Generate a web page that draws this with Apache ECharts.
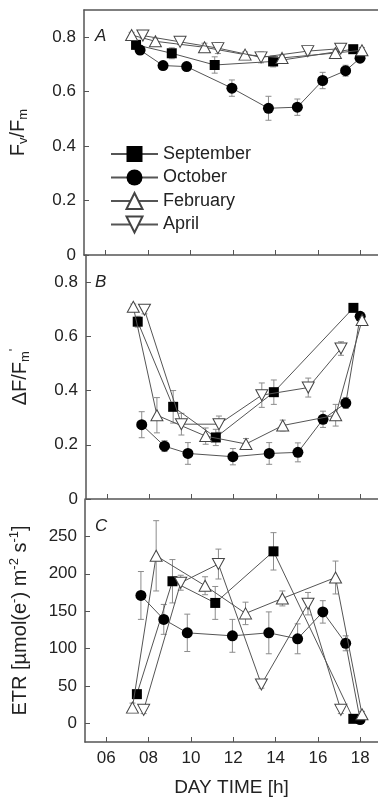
<!DOCTYPE html>
<html>
<head>
<meta charset="utf-8">
<script src="https://cdn.jsdelivr.net/npm/echarts@6/dist/echarts.min.js"></script>
<style>
  html, body { margin: 0; padding: 0; background: #fff; }
  #chart { width: 378px; height: 798px; }
</style>
</head>
<body>
<div id="chart"></div>
<script>
// sampling times (h) for each month
const sepTime = [7.45, 9.13, 11.15, 13.9, 17.67];
const octTime = [7.64, 8.72, 9.83, 11.96, 13.68, 15.04, 16.23, 17.31, 17.99];
const febTime = [7.24, 8.36, 10.67, 12.58, 14.32, 16.83, 18.08];
const aprTime = [7.77, 9.52, 11.3, 13.33, 15.53, 17.08];

// panel A: Fv/Fm
const sepA = [0.772, 0.741, 0.698, 0.711, 0.756];
const octA = [0.753, 0.696, 0.692, 0.613, 0.539, 0.543, 0.641, 0.677, 0.723];
const febA = [0.808, 0.785, 0.763, 0.736, 0.724, 0.742, 0.752];
const aprA = [0.806, 0.783, 0.76, 0.726, 0.749, 0.758];
const sepAErr = [0.015, 0.02, 0.03, 0.02, 0.01];
const octAErr = [0.015, 0.01, 0.01, 0.03, 0.044, 0.03, 0.03, 0.02, 0.01];
const febAErr = [0.01, 0.01, 0.015, 0.01, 0.01, 0.01, 0.01];
const aprAErr = [0.01, 0.01, 0.02, 0.02, 0.01, 0.01];

// panel B: dF/Fm'
const sepB = [0.654, 0.34, 0.227, 0.394, 0.705];
const octB = [0.274, 0.195, 0.168, 0.156, 0.168, 0.172, 0.294, 0.354, 0.674];
const febB = [0.709, 0.309, 0.232, 0.203, 0.271, 0.309, 0.66];
const aprB = [0.698, 0.276, 0.276, 0.383, 0.411, 0.555];
const sepBErr = [0.02, 0.06, 0.03, 0.045, 0.01];
const octBErr = [0.048, 0.02, 0.04, 0.03, 0.04, 0.035, 0.03, 0.02, 0.01];
const febBErr = [0.01, 0.065, 0.03, 0.02, 0.02, 0.04, 0.02];
const aprBErr = [0.015, 0.04, 0.03, 0.045, 0.035, 0.025];

// panel C: ETR
const sepC = [39, 190, 161, 230, 6];
const octC = [171, 139, 121, 117, 121, 113, 149, 107, 5];
const febC = [21, 224, 184, 147, 167, 195, 12];
const aprC = [18, 188, 213, 52, 160, 18];
const sepCErr = [5, 29, 22, 25, 3];
const octCErr = [32, 20, 25, 22, 28, 20, 15, 10, 3];
const febCErr = [6, 47, 12, 15, 10, 22, 4];
const aprCErr = [5, 10, 20, 5, 15, 5];

const xTicks = [6, 8, 10, 12, 14, 16, 18];
const fracTicks = [0, 0.2, 0.4, 0.6, 0.8];
const etrTicks = [0, 50, 100, 150, 200, 250];
const months = ['September', 'October', 'February', 'April'];

const FONT = '"Liberation Sans", Arial, sans-serif';
const AXIS = '#555';
const X_MIN = 5, X_MAX = 18.835; // plot runs off the right edge of the figure

const chart = echarts.init(document.getElementById('chart'));

const pair = (xs, ys) => xs.map((x, i) => [x, ys[i]]);
const errData = (xs, ys, es) => xs.map((x, i) => [x, ys[i] - es[i], ys[i] + es[i]]);

const markStyle = {
  September: { symbol: 'rect', symbolSize: 10, symbolRotate: 0, itemStyle: { color: '#000' } },
  October: { symbol: 'circle', symbolSize: 11, symbolRotate: 0, itemStyle: { color: '#000' } },
  February: { symbol: 'triangle', symbolSize: [12, 11], symbolRotate: 0, itemStyle: { color: '#fff', borderColor: '#444', borderWidth: 1 } },
  April: { symbol: 'triangle', symbolSize: [12, 11], symbolRotate: 180, itemStyle: { color: '#fff', borderColor: '#444', borderWidth: 1 } }
};

function renderErr(params, api) {
  const x = api.value(0);
  const lo = api.coord([x, api.value(1)]);
  const hi = api.coord([x, api.value(2)]);
  const w = 3;
  const style = { stroke: '#8c8c8c', lineWidth: 1 };
  return {
    type: 'group',
    children: [
      { type: 'line', shape: { x1: hi[0], y1: hi[1], x2: lo[0], y2: lo[1] }, style },
      { type: 'line', shape: { x1: hi[0] - w, y1: hi[1], x2: hi[0] + w, y2: hi[1] }, style },
      { type: 'line', shape: { x1: lo[0] - w, y1: lo[1], x2: lo[0] + w, y2: lo[1] }, style }
    ]
  };
}

const panels = [
  { vals: [sepA, octA, febA, aprA], errs: [sepAErr, octAErr, febAErr, aprAErr] },
  { vals: [sepB, octB, febB, aprB], errs: [sepBErr, octBErr, febBErr, aprBErr] },
  { vals: [sepC, octC, febC, aprC], errs: [sepCErr, octCErr, febCErr, aprCErr] }
];
const times = [sepTime, octTime, febTime, aprTime];

const series = [];
panels.forEach((p, gi) => {
  months.forEach((m, k) => {
    series.push({
      type: 'custom',
      xAxisIndex: gi, yAxisIndex: gi,
      renderItem: renderErr,
      data: errData(times[k], p.vals[k], p.errs[k]),
      encode: { x: 0, y: [1, 2] },
      z: 1, silent: true
    });
  });
  months.forEach((m, k) => {
    series.push(Object.assign({
      name: m,
      type: 'line',
      xAxisIndex: gi, yAxisIndex: gi,
      data: pair(times[k], p.vals[k]),
      lineStyle: { color: '#555', width: 1 },
      z: 2 + k,
      emphasis: { disabled: true }
    }, markStyle[m]));
  });
});

const grids = [
  { left: 84, right: 0, top: 10, height: 245 },
  { left: 84, right: 0, top: 255, height: 244 },
  { left: 84, right: 0, top: 499, height: 245 }
];

const xAxes = [0, 1, 2].map(i => ({
  type: 'value', gridIndex: i, min: X_MIN, max: X_MAX,
  axisLine: { onZero: false, lineStyle: { color: AXIS, width: 1.5 } },
  axisTick: { inside: true, length: 5, customValues: xTicks, lineStyle: { color: AXIS } },
  splitLine: { show: false },
  axisLabel: {
    show: i === 2, customValues: xTicks, margin: 8,
    fontSize: 17, color: '#222', fontFamily: FONT,
    formatter: v => (v < 10 ? '0' : '') + v
  },
  name: i === 2 ? 'DAY TIME [h]' : '',
  nameLocation: 'middle', nameGap: 36,
  nameTextStyle: { fontSize: 19, color: '#222', fontFamily: FONT }
}));
// frame line along the top of panel A
xAxes.push({
  type: 'value', gridIndex: 0, position: 'top', min: X_MIN, max: X_MAX,
  axisLine: { onZero: false, lineStyle: { color: AXIS, width: 1.5 } },
  axisTick: { show: false }, axisLabel: { show: false }, splitLine: { show: false }
});

const nameRich = {
  a: { fontSize: 20, lineHeight: 24, color: '#222', fontFamily: FONT },
  s: { fontSize: 13, lineHeight: 13, verticalAlign: 'bottom', color: '#222', fontFamily: FONT },
  p: { fontSize: 13, lineHeight: 13, verticalAlign: 'top', color: '#222', fontFamily: FONT }
};

const yAxisBase = (i, min, max, ticks, fmt, name, gap) => ({
  type: 'value', gridIndex: i, min, max,
  axisLine: { show: true, onZero: false, lineStyle: { color: AXIS, width: 1.5 } },
  axisTick: { show: true, inside: true, length: 5, customValues: ticks, lineStyle: { color: AXIS } },
  splitLine: { show: false },
  axisLabel: { customValues: ticks, formatter: fmt, margin: 8, fontSize: 17, color: '#222', fontFamily: FONT },
  name, nameLocation: 'middle', nameRotate: 90, nameGap: gap,
  nameTextStyle: { rich: nameRich }
});

const fracFmt = v => (v === 0 ? '0' : v.toFixed(1));

const yAxes = [
  yAxisBase(0, 0, 0.9, fracTicks, fracFmt, '{a|F}{s|v}{a|/F}{s|m}', 54),
  yAxisBase(1, 0, 0.9, fracTicks, fracFmt, "{a|ΔF/F}{s|m}{p|'}", 54),
  yAxisBase(2, -25, 300, etrTicks, v => String(v), '{a|ETR [µmol(e}{p|-}{a|) m}{p|-2}{a| s}{p|-1}{a|]}', 53)
];

const letter = (t, y) => ({
  type: 'text', left: 95, top: y,
  style: { text: t, fill: '#222', font: 'italic 17px "Liberation Sans", Arial, sans-serif' }
});

chart.setOption({
  animation: false,
  backgroundColor: '#fff',
  textStyle: { fontFamily: FONT },
  grid: grids,
  xAxis: xAxes,
  yAxis: yAxes,
  legend: {
    data: months,
    orient: 'vertical',
    left: 105, top: 140,
    itemWidth: 47, itemHeight: 20, itemGap: 5.5,
    textStyle: { fontSize: 18, color: '#222', fontFamily: FONT },
    selectedMode: false
  },
  graphic: [letter('A', 28), letter('B', 274), letter('C', 518)],
  series
});
</script>
</body>
</html>
